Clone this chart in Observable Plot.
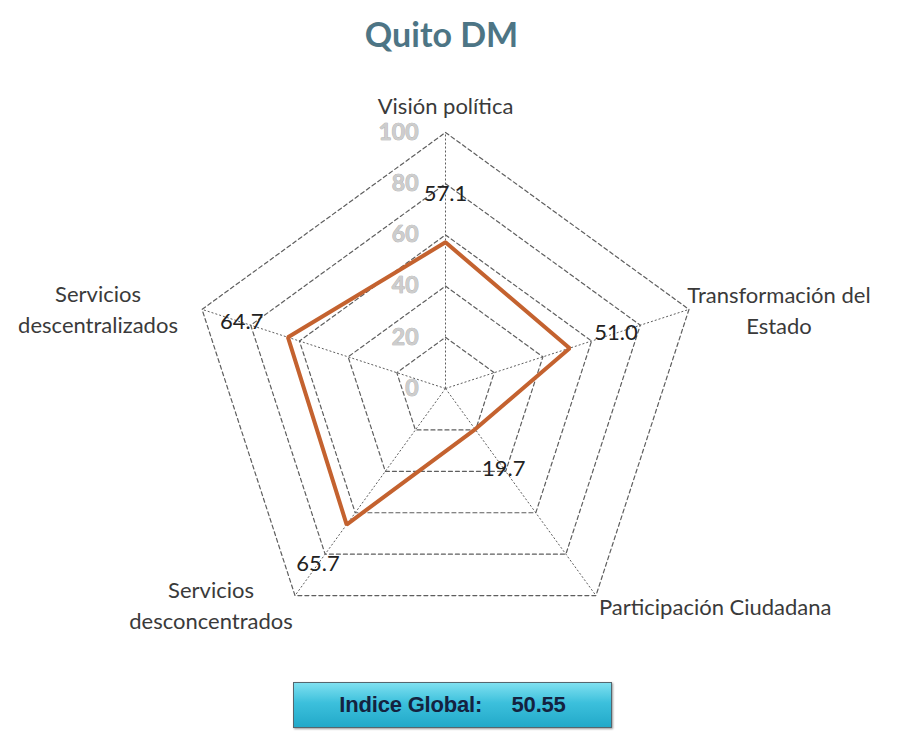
<!DOCTYPE html>
<html>
<head>
<meta charset="utf-8">
<script src="https://cdn.jsdelivr.net/npm/d3@7"></script>
<script src="https://cdn.jsdelivr.net/npm/@observablehq/plot@0.6"></script>
<style>
  body { margin: 0; background: #fff; width: 909px; height: 733px; overflow: hidden; font-family: Lato, "Noto Sans", sans-serif; }
  #title { height: 70px; line-height: 68px; text-align: center; font-size: 34px; font-weight: bold; color: #4d7585; padding-right: 26px; }
  #chart { height: 600px; }
  #box { position: absolute; left: 293px; top: 682px; width: 317px; height: 44px; line-height: 44px;
         text-align: center; font-family: "Liberation Sans", Arial, sans-serif; font-weight: bold; font-size: 22px; color: #14223f;
         background: linear-gradient(#7fe0f0, #3cc0dc 45%, #22a9c9); border: 1px solid #55666e; box-shadow: 1px 1px 2px #999; white-space: pre; letter-spacing: -0.2px; }
</style>
</head>
<body>
<div id="title">Quito DM</div>
<div id="chart"></div>
<div id="box">Indice Global:     50.55</div>
<script>
const axes = ["Visión política", "Transformación del\nEstado", "Participación Ciudadana", "Servicios\ndesconcentrados", "Servicios\ndescentralizados"];
const values = [57.1, 51.0, 19.7, 65.7, 64.7];
const ticks = [0, 20, 40, 60, 80, 100];

const W = 909, H = 600, CX = 445, CY = 318, R = 256;
const ang = i => (90 - 72 * i) * Math.PI / 180;
const px = (i, v) => v / 100 * Math.cos(ang(i));
const py = (i, v) => v / 100 * Math.sin(ang(i));

const idx = axes.map((a, i) => i);
const grid = ticks.slice(1).flatMap(t => idx.map(i => ({t, i})));
const pts = values.map((v, i) => ({v, i}));

const font = "Lato, 'Noto Sans', sans-serif";
const axisLabel = (i, opts) => Plot.text([i], {
  x: j => px(j, 100), y: j => py(j, 100), text: j => axes[j],
  fontSize: 22, fill: "#3a3a3a", lineHeight: 1.42, fontFamily: font, ...opts
});

const chart = Plot.plot({
  width: W, height: H,
  marginTop: 0, marginRight: 0, marginBottom: 0, marginLeft: 0,
  x: {domain: [-CX / R, (W - CX) / R], range: [0, W], axis: null},
  y: {domain: [-(H - CY) / R, CY / R], range: [H, 0], axis: null},
  style: {fontFamily: font, background: "white"},
  marks: [
    Plot.line(grid, {x: d => px(d.i, d.t), y: d => py(d.i, d.t), z: "t", curve: "linear-closed",
      stroke: "#5e5e5e", strokeWidth: 1.2, strokeDasharray: "4,3"}),
    Plot.link(idx, {x1: () => 0, y1: () => 0, x2: i => px(i, 100), y2: i => py(i, 100),
      stroke: "#5e5e5e", strokeWidth: 1, strokeDasharray: "2,2"}),
    Plot.line(pts, {x: d => px(d.i, d.v), y: d => py(d.i, d.v), curve: "linear-closed",
      stroke: "#c4622f", strokeWidth: 4, strokeLinejoin: "miter"}),
    Plot.text(ticks, {x: () => 0, y: t => t / 100, text: t => String(t), textAnchor: "end", dx: -27,
      fontSize: 23, fontWeight: "bold", fill: "#cdcdcd", stroke: "#a5a5a5", strokeWidth: 0.7, fontFamily: font}),
    Plot.text(pts, {x: d => px(d.i, d.v + 19), y: d => py(d.i, d.v + 19), text: d => d.v.toFixed(1),
      fontSize: 22, fill: "#222", fontFamily: font}),
    axisLabel(0, {dy: -29}),
    axisLabel(1, {dx: 90, dy: -1}),
    axisLabel(2, {textAnchor: "start", dx: 3, dy: 9}),
    axisLabel(3, {dx: -84, dy: 8}),
    axisLabel(4, {dx: -104, dy: -2})
  ]
});
document.getElementById("chart").append(chart);
</script>
</body>
</html>
